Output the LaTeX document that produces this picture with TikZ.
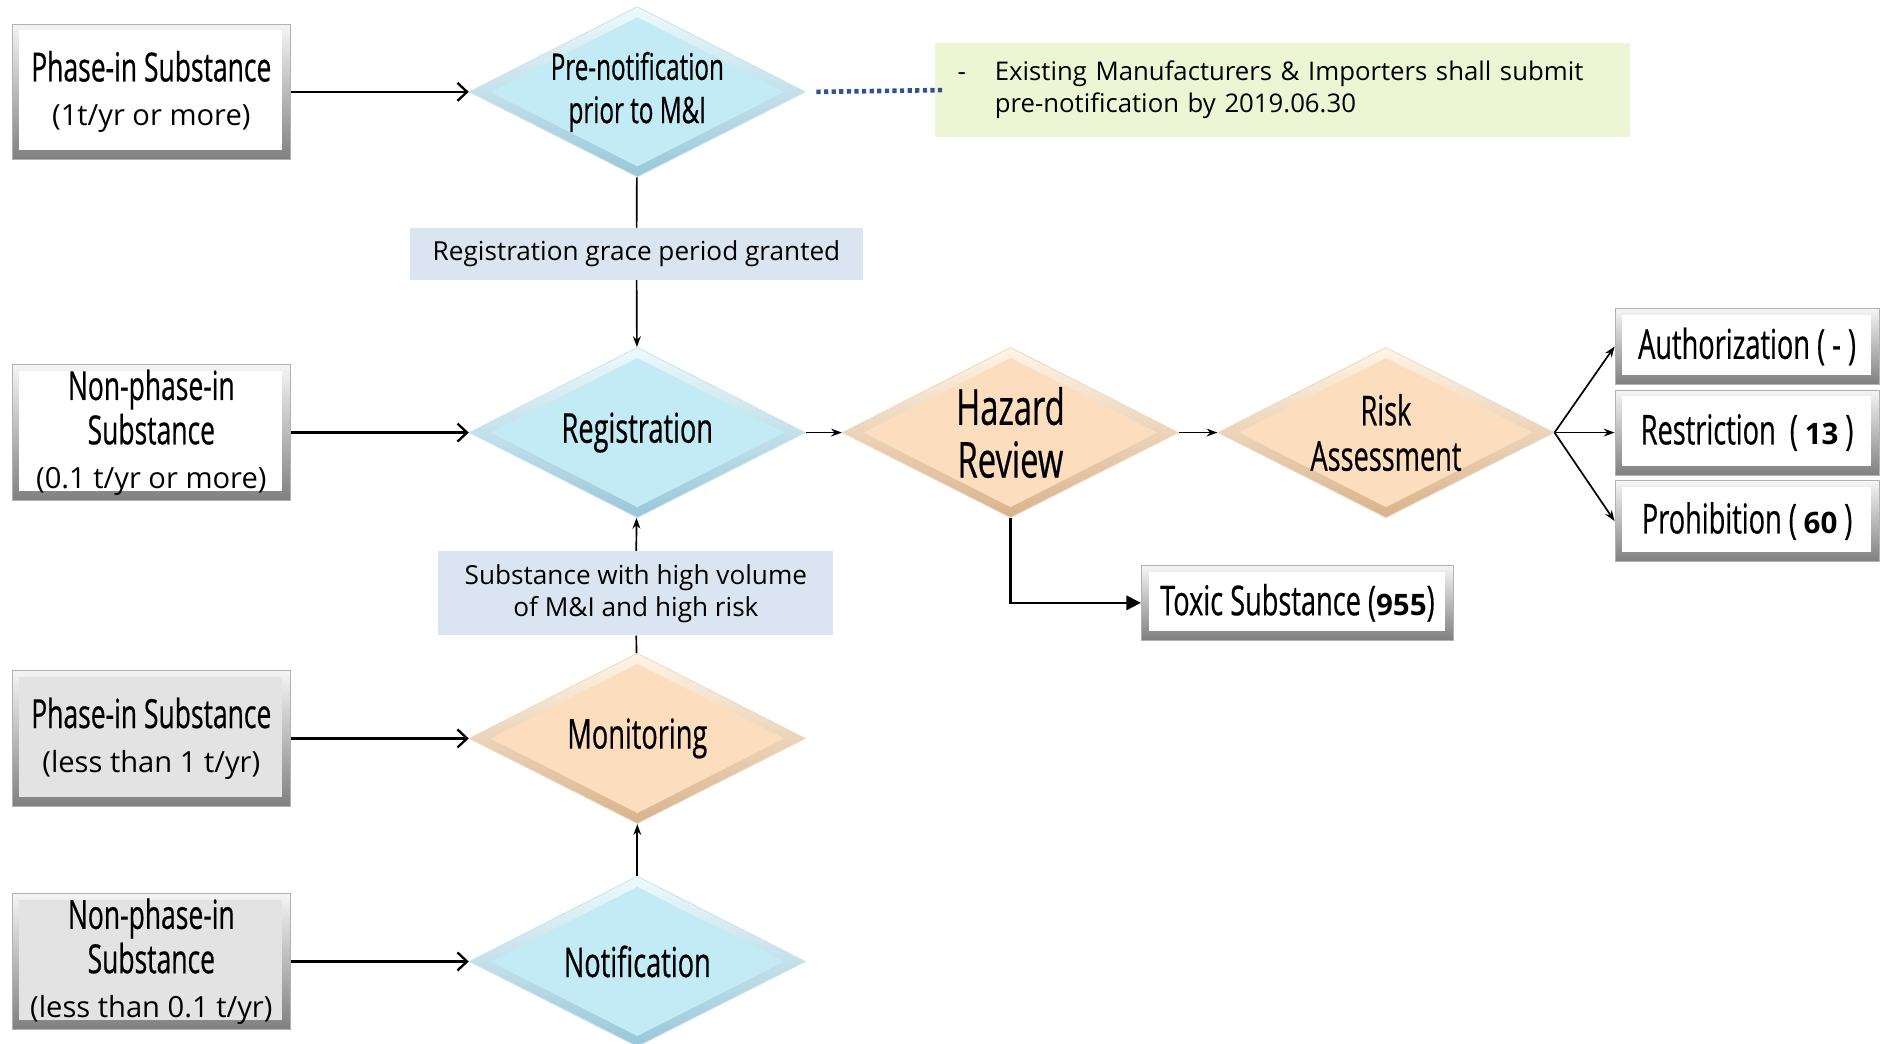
\documentclass[tikz,border=0pt]{standalone}
\usepackage{fontspec}
\setmainfont{Open Sans}
\newfontfamily\condfont[FakeStretch=0.66,FakeBold=0.5]{Open Sans}
\usepackage{tikz}
\usetikzlibrary{arrows.meta,calc,positioning,shapes.geometric}
\definecolor{diablue}{rgb}{0.76,0.92,0.96}
\definecolor{diabluedark}{rgb}{0.60,0.78,0.85}
\definecolor{diabluelight}{rgb}{0.93,0.98,0.99}
\definecolor{peach}{rgb}{0.99,0.87,0.75}
\definecolor{peachdark}{rgb}{0.85,0.70,0.55}
\definecolor{peachlight}{rgb}{1.00,0.96,0.90}
\definecolor{lightsteel}{rgb}{0.86,0.90,0.95}
\definecolor{paleolive}{rgb}{0.93,0.96,0.83}
\definecolor{dotblue}{rgb}{0.18,0.33,0.59}
\definecolor{boxgray}{rgb}{0.89,0.89,0.89}
\newcommand{\sublinea}{\normalfont\fontsize{13.8}{17}\selectfont}
\newcommand{\numfont}{\normalfont\bfseries\fontsize{14}{17}\selectfont}
\tikzset{
  bevel/.style={
    rectangle,
    draw=black!30,
    top color=black!4,
    bottom color=black!50,
    path picture={\fill[#1] ([shift={(3.5pt,-3pt)}]path picture bounding box.north west) rectangle ([shift={(-4pt,4.5pt)}]path picture bounding box.south east);},
    align=center,
    inner sep=2pt
  },
  fuente/.style={
    bevel=#1,
    minimum width=4.64cm,
    minimum height=2.26cm,
    font=\condfont\fontsize{19}{21}\selectfont
  },
  resultado/.style={
    bevel=white,
    minimum width=4.4cm,
    minimum height=1.42cm,
    font=\condfont\fontsize{19.5}{22}\selectfont
  },
  rombo/.style={
    diamond,
    shape aspect=2,
    minimum width=5.6cm,
    minimum height=2.84cm,
    inner sep=0pt,
    draw=#1dark!50,
    top color=#1light,
    bottom color=#1dark,
    path picture={\fill[#1] ([yshift=-5pt]path picture bounding box.north) -- ([xshift=-10pt]path picture bounding box.east) -- ([yshift=5pt]path picture bounding box.south) -- ([xshift=10pt]path picture bounding box.west) -- cycle;},
    align=center,
    font=\condfont\fontsize{19.5}{22}\selectfont
  },
  etiqueta/.style={
    rectangle,
    fill=lightsteel,
    align=center,
    inner sep=0pt,
    font=\fontsize{12.4}{15.2}\selectfont
  },
  nota/.style={
    rectangle,
    fill=paleolive,
    text width=10.82cm,
    inner xsep=0.38cm,
    minimum height=1.56cm,
    align=left,
    font=\fontsize{12.2}{15.3}\selectfont
  },
  flecha/.style={
    -{Straight Barb[length=1.6mm,width=3mm]},
    line width=1.1pt
  },
  flechita/.style={
    -{Stealth[length=1.8mm,width=1.3mm]},
    line width=0.8pt
  },
  flechatri/.style={
    -{Triangle[length=2.4mm,width=2.4mm]},
    line width=1pt
  },
  linea/.style={line width=0.8pt},
  punteado/.style={dotblue, line width=2.2pt, dash pattern=on 2pt off 1.6pt}
}

\begin{document}
\begin{tikzpicture}
\useasboundingbox (0,0) rectangle (31.36,-17.38);
\node[fuente=white] (f1) at (2.52,-1.53) {Phase-in Substance\\{\sublinea (1t/yr or more)}};
\node[fuente=white,below=3.4cm of f1] (f2) {Non-phase-in\\Substance\\{\sublinea (0.1 t/yr or more)}};
\node[fuente=boxgray,below=2.82cm of f2] (f3) {Phase-in Substance\\{\sublinea (less than 1 t/yr)}};
\node[fuente=boxgray,below=1.44cm of f3] (f4) {Non-phase-in\\Substance\\{\sublinea (less than 0.1 t/yr)}};
\node[rombo=diablue,right=2.96cm of f1,font=\condfont\fontsize{17.4}{20.5}\selectfont] (pre) {Pre-notification\\prior to M\&I};
\node[rombo=diablue,right=2.96cm of f2] (reg) {Registration};
\node[rombo=peach,right=2.96cm of f3] (mon) {Monitoring};
\node[rombo=diablue,right=2.96cm of f4] (noti) {Notification};
\node[rombo=peach,right=0.6cm of reg,font=\condfont\fontsize{23.5}{25}\selectfont] (haz) {Hazard\\Review};
\node[rombo=peach,right=0.64cm of haz,font=\condfont\fontsize{19.5}{21.5}\selectfont] (risk) {Risk\\Assessment};
\node[resultado,right=1cm of risk] (restr) {Restriction\ \ (\,{\numfont 13}\,)};
\node[resultado,above=0.08cm of restr,minimum height=1.26cm] (auth) {Authorization ( - )};
\node[resultado,below=0.08cm of restr,minimum height=1.34cm] (prohib) {Prohibition (\,{\numfont 60}\,)};
\node[resultado,minimum width=5.2cm,minimum height=1.24cm,anchor=west] (toxic) at (19,-10.04) {Toxic Substance ({\numfont 955})};
\node[etiqueta,minimum width=7.56cm,minimum height=0.86cm] (grace) at (10.6,-4.23) {Registration grace period granted};
\node[etiqueta,minimum width=6.58cm,minimum height=1.4cm] (vol) at (10.59,-9.88) {Substance with high volume\\of M\&I and high risk};
\node[nota,anchor=west] (note) at (15.56,-1.5) {\makebox[1.45em][l]{-}Existing Manufacturers \& Importers shall submit\\\hspace*{1.45em}pre-notification by 2019.06.30};
\draw[flecha] (f1) -- (pre);
\draw[flecha] (f2) -- (reg);
\draw[flecha] (f3) -- (mon);
\draw[flecha] (f4) -- (noti);
\draw[punteado] ([xshift=5pt]pre.east) -- ([xshift=4pt]note.west);
\draw[linea] (pre) -- (grace);
\draw[flechita] (grace) -- (reg);
\draw[flechita] (noti) -- (mon);
\draw[linea] (mon) -- (vol);
\draw[flechita] (vol) -- (reg);
\draw[flechita] (reg) -- (haz);
\draw[flechita] (haz) -- (risk);
\draw[flechita] (risk.east) -- (auth.west);
\draw[flechita] (risk.east) -- (restr.west);
\draw[flechita] (risk.east) -- (prohib.west);
\draw[flechatri] (haz.south) |- (toxic.west);
\end{tikzpicture}
\end{document}
